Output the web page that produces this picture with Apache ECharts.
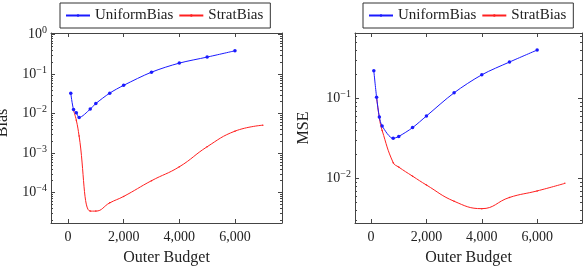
<!DOCTYPE html>
<html>
<head>
<meta charset="utf-8">
<script src="https://cdn.jsdelivr.net/npm/echarts@6/dist/echarts.min.js"></script>
<style>
html,body{margin:0;padding:0;background:#fff;}
#chart{width:588px;height:270px;}
</style>
</head>
<body>
<div id="chart"></div>
<script>
// ---- data ----
const uniformX = [100, 200, 300, 400, 800, 1000, 1500, 2000, 3000, 4000, 5000, 6000];
const uniformBias = [0.033, 0.0127, 0.0105, 0.008, 0.013, 0.018, 0.033, 0.052, 0.112, 0.19, 0.27, 0.39];
const uniformMSE = [0.222, 0.104, 0.059, 0.0454, 0.0318, 0.0336, 0.0433, 0.0605, 0.118, 0.198, 0.286, 0.404];
const stratX = [200, 300, 400, 800, 1000, 1500, 2000, 3000, 4000, 5000, 6000, 7000];
const stratBias = [0.012, 0.0068, 0.0027, 0.000034, 0.000034, 0.000055, 0.00008, 0.0002, 0.00045, 0.00145, 0.0036, 0.0051];
const stratMSE = [0.104, 0.057, 0.040, 0.0158, 0.0139, 0.0107, 0.0083, 0.0052, 0.0042, 0.0058, 0.0070, 0.0087];
const xTicks = [0, 2000, 4000, 6000];
const biasTicks = [1e-4, 1e-3, 1e-2, 1e-1, 1];
const mseTicks = [1e-2, 1e-1];
const seriesNames = ['UniformBias', 'StratBias'];
const xTitle = 'Outer Budget';
const yTitles = ['Bias', 'MSE'];

// minor log ticks (axis decoration): 2..9 x 10^k within range
function minorTicks(lo, hi) {
  const out = [];
  for (let e = Math.floor(Math.log10(lo)); e <= Math.ceil(Math.log10(hi)); e++) {
    for (let m = 2; m <= 9; m++) {
      const v = m * Math.pow(10, e);
      if (v > lo && v < hi) out.push(v);
    }
  }
  return out;
}

const FONT = 'Liberation Serif';
const FRAME = '#444';
const ranges = [
  { xmin: -610, xmax: 7690, ymin: 1.7e-5, ymax: 1.1, ticks: biasTicks, nameGap: 40, namePad: [0, 0, 0, 10] },
  { xmin: -580, xmax: 7620, ymin: 0.00278, ymax: 0.66, ticks: mseTicks, nameGap: 43, namePad: [0, 0, 0, 0] }
];
const grids = [
  { left: 51, top: 33, width: 231, height: 190 },
  { left: 355, top: 33, width: 227, height: 190 }
];

function expLabel(v) {
  const e = Math.round(Math.log10(v));
  const s = e < 0 ? '\u2212' + (-e) : String(e);
  return '{b|10}{sup|' + s + '}';
}
function commaFmt(v) {
  return String(v).replace(/\B(?=(\d{3})+(?!\d))/g, ',');
}

const xAxis = [], yAxis = [], series = [], legend = [];
ranges.forEach((r, gi) => {
  // bottom x axis
  xAxis.push({
    type: 'value', gridIndex: gi, position: 'bottom', min: r.xmin, max: r.xmax,
    name: xTitle, nameLocation: 'middle', nameGap: 27, nameMoveOverlap: false,
    nameTextStyle: { fontFamily: FONT, fontSize: 16, color: '#222' },
    axisLine: { show: true, onZero: false, lineStyle: { color: FRAME, width: 1 } },
    axisTick: { show: true, inside: true, length: 4, customValues: xTicks, lineStyle: { color: FRAME } },
    axisLabel: { show: true, customValues: xTicks, formatter: commaFmt, margin: 7,
      fontFamily: FONT, fontSize: 14, color: '#222' },
    splitLine: { show: false }
  });
  // top x axis (mirror ticks)
  xAxis.push({
    type: 'value', gridIndex: gi, position: 'top', min: r.xmin, max: r.xmax,
    axisLine: { show: true, onZero: false, lineStyle: { color: FRAME, width: 1 } },
    axisTick: { show: true, inside: true, length: 4, customValues: xTicks, lineStyle: { color: FRAME } },
    axisLabel: { show: false }, splitLine: { show: false }
  });
  const minors = minorTicks(r.ymin, r.ymax);
  const yBase = {
    type: 'log', logBase: 10, gridIndex: gi, min: r.ymin, max: r.ymax,
    splitLine: { show: false }
  };
  // left y axis with labels
  yAxis.push(Object.assign({}, yBase, {
    position: 'left',
    name: yTitles[gi], nameLocation: 'middle', nameGap: r.nameGap, nameRotate: 90,
    nameMoveOverlap: false,
    nameTextStyle: { fontFamily: FONT, fontSize: 16, color: '#222', padding: r.namePad },
    axisLine: { show: true, onZero: false, lineStyle: { color: FRAME, width: 1 } },
    axisTick: { show: true, inside: true, length: 4, customValues: r.ticks, lineStyle: { color: FRAME } },
    axisLabel: {
      show: true, customValues: r.ticks, formatter: expLabel, margin: 4,
      fontFamily: FONT, color: '#222',
      rich: {
        b: { fontFamily: FONT, fontSize: 14, lineHeight: 14, verticalAlign: 'bottom', color: '#222' },
        sup: { fontFamily: FONT, fontSize: 10, lineHeight: 10, padding: [0, 0, 6, 0], verticalAlign: 'bottom', color: '#222' }
      }
    }
  }));
  // right y axis (mirror ticks)
  yAxis.push(Object.assign({}, yBase, {
    position: 'right',
    axisLine: { show: true, onZero: false, lineStyle: { color: FRAME, width: 1 } },
    axisTick: { show: true, inside: true, length: 4, customValues: r.ticks, lineStyle: { color: FRAME } },
    axisLabel: { show: false }
  }));
  // minor ticks left/right
  ['left', 'right'].forEach(pos => {
    yAxis.push(Object.assign({}, yBase, {
      position: pos,
      axisLine: { show: false, onZero: false },
      axisTick: { show: true, inside: true, length: 2, customValues: minors, lineStyle: { color: FRAME } },
      axisLabel: { show: false }
    }));
  });

  const yVals = gi === 0 ? [uniformBias, stratBias] : [uniformMSE, stratMSE];
  series.push({
    name: seriesNames[0], type: 'line', xAxisIndex: gi * 2, yAxisIndex: gi * 4,
    data: uniformX.map((x, i) => [x, yVals[0][i]]),
    smooth: 0.3, symbol: 'circle', symbolSize: 3.5, showSymbol: true,
    lineStyle: { color: '#1a1aff', width: 1 }, itemStyle: { color: '#1a1aff' },
    emphasis: { disabled: true }, animation: false, z: 3
  });
  series.push({
    name: seriesNames[1], type: 'line', xAxisIndex: gi * 2, yAxisIndex: gi * 4,
    data: stratX.map((x, i) => [x, yVals[1][i]]),
    smooth: 0.45, symbol: 'circle', symbolSize: 1.5, showSymbol: true,
    lineStyle: { color: '#ff2020', width: 1 }, itemStyle: { color: '#ff2020' },
    emphasis: { disabled: true }, animation: false, z: 2
  });

  legend.push({
    data: seriesNames, left: gi === 0 ? 60 : 363, top: 3,
    orient: 'horizontal', itemWidth: 24, itemHeight: 3, itemGap: 5,
    padding: [5, 7, 5, 5], borderColor: '#333', borderWidth: 1,
    textStyle: { fontFamily: FONT, fontSize: 15, color: '#222' },
    selectedMode: false
  });
});

const chart = echarts.init(document.getElementById('chart'), null, { renderer: 'canvas' });
chart.setOption({
  animation: false,
  backgroundColor: '#fff',
  grid: grids.map(g => Object.assign({ containLabel: false, outerBoundsMode: 'none', show: false }, g)),
  xAxis, yAxis, series, legend
});
</script>
</body>
</html>
